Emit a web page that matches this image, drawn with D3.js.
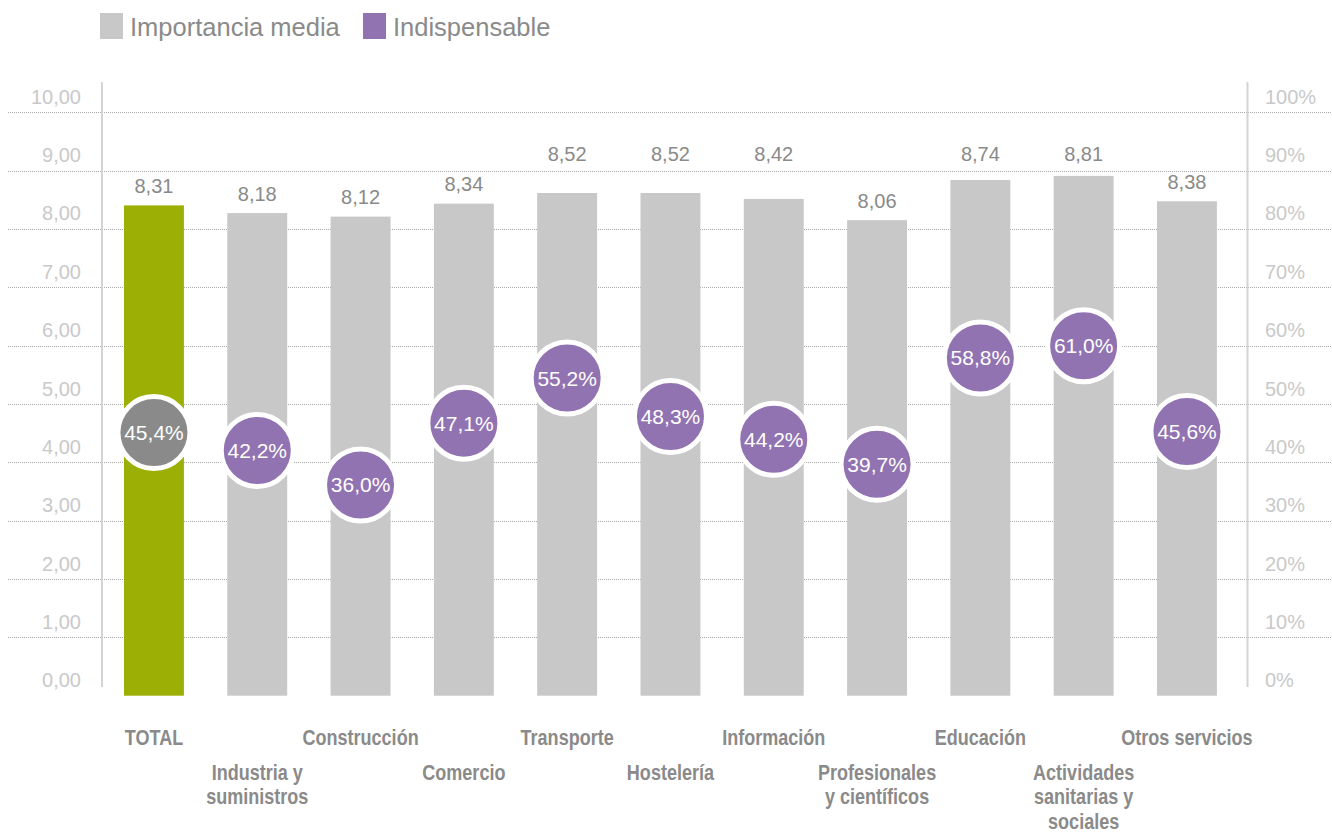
<!DOCTYPE html>
<html>
<head>
<meta charset="utf-8">
<script src="https://cdn.jsdelivr.net/npm/d3@7"></script>
<style>
  html, body { margin: 0; padding: 0; background: #fff; }
  svg { display: block; }
  text { font-family: "Liberation Sans", Arial, Helvetica, sans-serif; }
</style>
</head>
<body>
<svg id="chart" width="1332" height="834"></svg>
<script>
// ---- data ----
const categories = [
  "TOTAL", "Industria y\nsuministros", "Construcción", "Comercio", "Transporte",
  "Hostelería", "Información", "Profesionales\ny científicos", "Educación",
  "Actividades\nsanitarias y\nsociales", "Otros servicios"
];
const importanciaMedia = [8.31, 8.18, 8.12, 8.34, 8.52, 8.52, 8.42, 8.06, 8.74, 8.81, 8.38];
const indispensable = [45.4, 42.2, 36.0, 47.1, 55.2, 48.3, 44.2, 39.7, 58.8, 61.0, 45.6];
const leftTicks = [0, 1, 2, 3, 4, 5, 6, 7, 8, 9, 10];
const rightTicks = [0, 10, 20, 30, 40, 50, 60, 70, 80, 90, 100];
const seriesNames = ["Importancia media", "Indispensable"];

// ---- styles ----
const C = {
  bar: "#c8c8c8", total: "#9caf04", purple: "#9273b2", totalCircle: "#8a8a8a",
  label: "#8a8a8a", tick: "#c9c9c9", grid: "#a8a8a8", axis: "#d4d4d4"
};
const fmt = (v, d) => v.toFixed(d).replace(".", ",");

const svg = d3.select("#chart");

const x = d3.scaleBand().domain(categories).range([102.3, 1238.6])
  .paddingInner(0.42).paddingOuter(0.21);
const yGrid = d3.scaleLinear().domain([0, 10]).range([695.7, 112.3]);
const yBar = d3.scaleLinear().domain([0, 10]).range([695.7, 105.7]);
const yPct = d3.scaleLinear().domain([0, 100]).range([685.5, 128.5]);
const yRight = d3.scaleLinear().domain([0, 100]).range([695.7, 112.3]);

// gridlines
svg.append("g").selectAll("line").data(leftTicks.filter(d => d > 0)).join("line")
  .attr("x1", 8).attr("x2", 1332)
  .attr("y1", d => Math.round(yGrid(d)) + 0.5).attr("y2", d => Math.round(yGrid(d)) + 0.5)
  .attr("stroke", C.grid).attr("stroke-width", 1).attr("stroke-dasharray", "1,1");

// axis lines
[102, 1247.5].forEach(ax => {
  svg.append("line").attr("x1", ax).attr("x2", ax).attr("y1", 82).attr("y2", 687)
    .attr("stroke", C.axis).attr("stroke-width", 2);
});

// left tick labels
svg.append("g").selectAll("text").data(leftTicks).join("text")
  .attr("x", 81).attr("y", d => yGrid(d) - 8.5)
  .attr("text-anchor", "end").attr("font-size", 20).attr("fill", C.tick)
  .text(d => fmt(d, 2));

// right tick labels
svg.append("g").selectAll("text").data(rightTicks).join("text")
  .attr("x", 1265).attr("y", d => yRight(d) - 8.5)
  .attr("text-anchor", "start").attr("font-size", 20).attr("fill", C.tick)
  .text(d => d + "%");

// bars
const rows = categories.map((c, i) => ({ c, i, v: importanciaMedia[i], p: indispensable[i] }));
svg.append("g").selectAll("rect").data(rows).join("rect")
  .attr("x", d => x(d.c)).attr("width", x.bandwidth())
  .attr("y", d => yBar(d.v)).attr("height", d => yBar(0) - yBar(d.v))
  .attr("fill", d => d.i === 0 ? C.total : C.bar);

// value labels
svg.append("g").selectAll("text").data(rows).join("text")
  .attr("x", d => x(d.c) + x.bandwidth() / 2)
  .attr("y", d => (d.v >= 8.4 ? yGrid(9) - 17 : yBar(d.v) - 19.5) + 7.2)
  .attr("text-anchor", "middle").attr("font-size", 20).attr("fill", C.label)
  .text(d => fmt(d.v, 2));

// circles
const cg = svg.append("g").selectAll("g").data(rows).join("g")
  .attr("transform", d => `translate(${x(d.c) + x.bandwidth() / 2},${yPct(d.p)})`);
cg.append("circle").attr("r", 36)
  .attr("fill", d => d.i === 0 ? C.totalCircle : C.purple)
  .attr("stroke", "#fff").attr("stroke-width", 5);
cg.append("text").attr("y", 7.5).attr("text-anchor", "middle")
  .attr("font-size", 21).attr("fill", "#fff")
  .text(d => fmt(d.p, 1) + "%");

// category labels (condensed bold)
const lg = svg.append("g").selectAll("g").data(rows).join("g")
  .attr("transform", d => `translate(${x(d.c) + x.bandwidth() / 2},${d.i % 2 === 0 ? 745 : 780}) scale(0.82,1)`);
lg.each(function(d) {
  const t = d3.select(this).append("text").attr("text-anchor", "middle")
    .attr("font-size", 22).attr("font-weight", "bold").attr("fill", C.label);
  d.c.split("\n").forEach((line, k) => {
    t.append("tspan").attr("x", 0).attr("y", k * 24.5).text(line);
  });
});

// legend
const legend = svg.append("g");
const legItems = [
  { name: seriesNames[0], color: C.bar, x: 100 },
  { name: seriesNames[1], color: C.purple, x: 363 }
];
legItems.forEach(it => {
  legend.append("rect").attr("x", it.x).attr("y", 13).attr("width", 23).attr("height", 26)
    .attr("fill", it.color);
  legend.append("text").attr("x", it.x + 30).attr("y", 36)
    .attr("font-size", 25.5).attr("fill", C.label).text(it.name);
});
</script>
</body>
</html>
